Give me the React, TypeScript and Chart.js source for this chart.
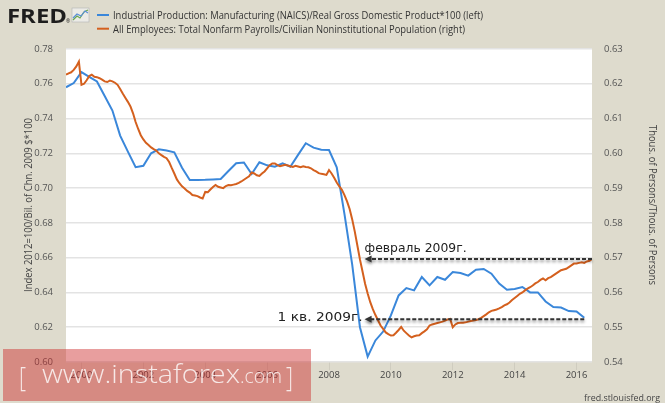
import React, { useEffect, useRef } from "react";
import { Chart, registerables } from "chart.js";

Chart.register(...registerables);

// ---------- data ----------
const xMin = 1999.5; // Jul 1999
const xMax = 2016.5; // Jul 2016
const xTickYears = [2000, 2002, 2004, 2006, 2008, 2010, 2012, 2014, 2016];
const leftTicks = [0.6, 0.62, 0.64, 0.66, 0.68, 0.7, 0.72, 0.74, 0.76, 0.78];
const rightTicks = [0.54, 0.55, 0.56, 0.57, 0.58, 0.59, 0.6, 0.61, 0.62, 0.63];

const blueLabel =
  "Industrial Production: Manufacturing (NAICS)/Real Gross Domestic Product*100 (left)";
const orangeLabel =
  "All Employees: Total Nonfarm Payrolls/Civilian Noninstitutional Population (right)";

// quarterly, from 1999 Q3 to 2016 Q2
const blueStart = 1999.5;
const blueValues = [
  0.758, 0.7604, // 1999 Q3-Q4
  0.7667, 0.764, 0.7613, 0.753, // 2000
  0.7446, 0.7302, 0.721, 0.712, // 2001
  0.7128, 0.72, 0.7223, 0.7216, // 2002
  0.7206, 0.7117, 0.7046, 0.7047, // 2003
  0.7048, 0.705, 0.7052, 0.7098, // 2004
  0.7143, 0.7147, 0.7081, 0.7149, // 2005
  0.7131, 0.7123, 0.7143, 0.7123, // 2006
  0.7191, 0.7258, 0.7233, 0.7221, // 2007
  0.7219, 0.712, 0.685, 0.656, // 2008
  0.62, 0.6031, 0.6124, 0.6175, // 2009
  0.6268, 0.6383, 0.6425, 0.6412, // 2010
  0.6489, 0.6441, 0.6489, 0.6473, // 2011
  0.6517, 0.6512, 0.6497, 0.6531, // 2012
  0.6535, 0.6508, 0.6451, 0.6416, // 2013
  0.642, 0.6431, 0.64, 0.64, // 2014
  0.6348, 0.6316, 0.6313, 0.6293, // 2015
  0.6291, 0.6254, // 2016 Q1-Q2
];

// monthly, from Jul 1999 to Jul 2016
const orangeStart = 1999.5;
const orangeValues = [
  0.6226, 0.623, 0.6233, 0.624, 0.625, 0.6264, // 1999 Jul-Dec
  0.6197, 0.62, 0.621, 0.6222, 0.6226, 0.622, 0.6219, 0.6216, 0.6212, 0.6207, 0.6205, 0.6209, // 2000
  0.6207, 0.6203, 0.6197, 0.6185, 0.6172, 0.616, 0.6148, 0.6135, 0.6115, 0.609, 0.607, 0.6052, // 2001
  0.604, 0.603, 0.6024, 0.6017, 0.6012, 0.6008, 0.6, 0.5995, 0.599, 0.5986, 0.5975, 0.5958, // 2002
  0.5942, 0.5925, 0.5914, 0.5905, 0.5899, 0.5892, 0.5887, 0.588, 0.5879, 0.5877, 0.5873, 0.587, // 2003
  0.5889, 0.5888, 0.5896, 0.5903, 0.5909, 0.5904, 0.5902, 0.59, 0.5906, 0.5909, 0.5908, 0.591, // 2004
  0.5912, 0.5915, 0.5919, 0.5924, 0.5929, 0.5934, 0.5945, 0.5942, 0.5937, 0.5935, 0.5942, 0.5948, // 2005
  0.5957, 0.5966, 0.5971, 0.5971, 0.5966, 0.5963, 0.5965, 0.5967, 0.5965, 0.5963, 0.5961, 0.5964, // 2006
  0.5962, 0.596, 0.5963, 0.5961, 0.596, 0.5957, 0.5952, 0.5948, 0.5943, 0.5941, 0.594, 0.5938, // 2007
  0.5952, 0.5942, 0.593, 0.5916, 0.5905, 0.5895, 0.588, 0.5862, 0.584, 0.581, 0.5775, 0.5735, // 2008
  0.5695, 0.566, 0.5625, 0.5597, 0.5572, 0.5552, 0.5535, 0.552, 0.5505, 0.5495, 0.5485, 0.548, // 2009
  0.5476, 0.5477, 0.5484, 0.5492, 0.5501, 0.549, 0.5483, 0.5476, 0.5471, 0.5474, 0.5476, 0.5477, // 2010
  0.5483, 0.5488, 0.5494, 0.5505, 0.5508, 0.551, 0.5512, 0.5514, 0.5516, 0.5519, 0.5522, 0.5524, // 2011
  0.55, 0.5508, 0.5512, 0.5513, 0.5513, 0.5514, 0.5516, 0.5518, 0.5519, 0.5521, 0.5523, 0.5527, // 2012
  0.5532, 0.5537, 0.5543, 0.5547, 0.5549, 0.5551, 0.5554, 0.5558, 0.5563, 0.5566, 0.5571, 0.5578, // 2013
  0.5584, 0.559, 0.5596, 0.56, 0.5606, 0.5611, 0.5615, 0.562, 0.5626, 0.563, 0.5636, 0.564, // 2014
  0.5635, 0.5641, 0.5644, 0.5649, 0.5654, 0.5659, 0.5664, 0.5666, 0.5668, 0.5673, 0.5678, 0.5683, // 2015
  0.5683, 0.5685, 0.5687, 0.5685, 0.5689, 0.5691, 0.5696, // 2016 Jan-Jul
];

// annotations
const annotationYear = 2009.15;
const upperNote = "февраль 2009г.";
const lowerNote = "1 кв. 2009г.";
const leftTitle = "Index 2012=100/Bil. of Chn. 2009 $*100";
const rightTitle = "Thous. of Persons/Thous. of Persons";
const sourceText = "fred.stlouisfed.org";

// ---------- styles ----------
const BG = "#dedbcd";
const BLUE = "#3a87da";
const ORANGE = "#d4601e";
const TICK = "#555555";
const FONT = '"Open Sans", "DejaVu Sans", sans-serif';

function fitText(
  ctx: CanvasRenderingContext2D,
  text: string,
  x: number,
  y: number,
  font: string,
  targetW: number,
  align: CanvasTextAlign = "left",
  rot = 0
) {
  ctx.save();
  ctx.font = font;
  const w = ctx.measureText(text).width;
  const s = targetW / w;
  ctx.translate(x, y);
  if (rot) ctx.rotate(rot);
  ctx.scale(s, 1);
  ctx.textAlign = align;
  ctx.fillText(text, 0, 0);
  ctx.restore();
}

function dashedArrow(ctx: CanvasRenderingContext2D, xTip: number, xEnd: number, y: number) {
  ctx.save();
  ctx.shadowColor = "rgba(0,0,0,0.45)";
  ctx.shadowBlur = 3;
  ctx.shadowOffsetY = 2;
  ctx.strokeStyle = "#333";
  ctx.lineWidth = 2;
  ctx.setLineDash([4, 2]);
  ctx.beginPath();
  ctx.moveTo(xEnd, y);
  ctx.lineTo(xTip + 5, y);
  ctx.stroke();
  ctx.setLineDash([]);
  ctx.fillStyle = "#333";
  ctx.beginPath();
  ctx.moveTo(xTip, y);
  ctx.lineTo(xTip + 7, y - 3.5);
  ctx.lineTo(xTip + 7, y + 3.5);
  ctx.closePath();
  ctx.fill();
  ctx.restore();
}

const decorPlugin = {
  id: "decor",
  beforeDraw(chart: any) {
    const { ctx, chartArea: a, width, height } = chart;
    ctx.save();
    ctx.fillStyle = BG;
    ctx.fillRect(0, 0, width, height);
    ctx.fillStyle = "#ffffff";
    ctx.fillRect(a.left, a.top, a.right - a.left, a.bottom - a.top);
    ctx.restore();
  },
  afterDraw(chart: any) {
    const { ctx } = chart;
    const xs = chart.scales.x;
    const yl = chart.scales.y;
    const yr = chart.scales.y1;

    ctx.save();
    // FRED logo
    ctx.fillStyle = "#1d1d1d";
    ctx.textBaseline = "alphabetic";
    fitText(ctx, "FRED", 7, 23, `bold 20px ${FONT}`, 60);
    ctx.font = `5px ${FONT}`;
    ctx.fillText("®", 66, 23);
    // small icon
    ctx.fillStyle = "#ecebe6";
    ctx.fillRect(72, 8, 17, 14);
    ctx.strokeStyle = "#b9b9b9";
    ctx.lineWidth = 0.7;
    ctx.strokeRect(72, 8, 17, 14);
    ctx.lineWidth = 1.2;
    ctx.strokeStyle = "#6aa84f";
    ctx.beginPath();
    ctx.moveTo(73, 20); ctx.lineTo(77, 16); ctx.lineTo(80, 18); ctx.lineTo(84, 12); ctx.lineTo(88, 10);
    ctx.stroke();
    ctx.strokeStyle = "#5b8fd6";
    ctx.beginPath();
    ctx.moveTo(73, 18); ctx.lineTo(77, 14); ctx.lineTo(81, 16); ctx.lineTo(85, 11); ctx.lineTo(88, 13);
    ctx.stroke();

    // legend
    ctx.lineWidth = 2;
    ctx.strokeStyle = BLUE;
    ctx.beginPath(); ctx.moveTo(97, 15); ctx.lineTo(109, 15); ctx.stroke();
    ctx.strokeStyle = ORANGE;
    ctx.beginPath(); ctx.moveTo(97, 28.7); ctx.lineTo(109, 28.7); ctx.stroke();
    ctx.fillStyle = "#333333";
    fitText(ctx, blueLabel, 113, 19, `10px ${FONT}`, 370);
    fitText(ctx, orangeLabel, 113, 32.5, `10px ${FONT}`, 352);

    // axis titles
    ctx.fillStyle = "#444444";
    fitText(ctx, leftTitle, 31.5, 205, `10px ${FONT}`, 174, "center", -Math.PI / 2);
    fitText(ctx, rightTitle, 649, 205, `10px ${FONT}`, 160, "center", Math.PI / 2);

    // annotations
    const tipX = xs.getPixelForValue(annotationYear);
    const oLastX = xs.getPixelForValue(orangeStart + (orangeValues.length - 1) / 12);
    const oLastY = yr.getPixelForValue(orangeValues[orangeValues.length - 1]);
    const bLastX = xs.getPixelForValue(blueStart + (blueValues.length - 1) * 0.25);
    const bLastY = yl.getPixelForValue(blueValues[blueValues.length - 1]);
    dashedArrow(ctx, tipX, oLastX, oLastY);
    dashedArrow(ctx, tipX, bLastX, bLastY + 1.5);
    ctx.fillStyle = "#222222";
    fitText(ctx, upperNote, tipX, oLastY - 7.5, `12.5px "DejaVu Sans", sans-serif`, 102);
    fitText(ctx, lowerNote, tipX - 2, bLastY + 3, `12.5px "DejaVu Sans", sans-serif`, 85, "right");

    // watermark
    ctx.fillStyle = "rgba(205,40,40,0.45)";
    ctx.fillRect(3, 349, 308, 52);
    ctx.fillStyle = "rgba(255,255,255,0.8)";
    fitText(ctx, "[", 19, 387, `300 28px ${FONT}`, 7);
    fitText(ctx, "www.instaforex", 42, 383, `300 26px ${FONT}`, 198);
    fitText(ctx, ".com", 240, 383, `300 20px ${FONT}`, 42);
    fitText(ctx, "]", 286, 387, `300 28px ${FONT}`, 7);

    // source
    ctx.fillStyle = "#444444";
    fitText(ctx, sourceText, 660, 401, `9px ${FONT}`, 76, "right");
    ctx.restore();
  },
};

export default function App() {
  const ref = useRef<HTMLCanvasElement | null>(null);

  useEffect(() => {
    document.body.style.margin = "0";
    const canvas = ref.current;
    if (!canvas) return;
    const blueData = blueValues.map((v, i) => ({ x: blueStart + i * 0.25, y: v }));
    const orangeData = orangeValues.map((v, i) => ({ x: orangeStart + i / 12, y: v }));
    const tickFont = { family: FONT, size: 9.5 };

    const chart = new Chart(canvas, {
      type: "line",
      data: {
        datasets: [
          {
            label: blueLabel,
            data: blueData,
            borderColor: BLUE,
            borderWidth: 2,
            pointRadius: 0,
            tension: 0,
            yAxisID: "y",
            order: 1,
          },
          {
            label: orangeLabel,
            data: orangeData,
            borderColor: ORANGE,
            borderWidth: 2,
            pointRadius: 0,
            tension: 0,
            yAxisID: "y1",
            order: 0,
          },
        ],
      },
      options: {
        animation: false,
        responsive: false,
        layout: { padding: { top: 49, left: 0, right: 0, bottom: 0 } },
        plugins: { legend: { display: false }, tooltip: { enabled: false } },
        scales: {
          x: {
            type: "linear",
            min: xMin,
            max: xMax,
            afterBuildTicks: (s: any) => {
              s.ticks = xTickYears.map((v) => ({ value: v }));
            },
            afterFit: (s: any) => {
              s.height = 41;
            },
            grid: { drawOnChartArea: false, drawTicks: true, tickLength: 8, color: "#cfccbf", lineWidth: 1 },
            border: { display: false },
            ticks: {
              font: tickFont,
              color: "#444",
              padding: 0,
              maxRotation: 0,
              autoSkip: false,
              callback: (v: any) => String(v),
            },
          },
          y: {
            type: "linear",
            position: "left",
            min: 0.6,
            max: 0.78,
            afterBuildTicks: (s: any) => {
              s.ticks = leftTicks.map((v) => ({ value: v }));
            },
            afterFit: (s: any) => {
              s.width = 66;
            },
            grid: { color: "#e3e3e3", lineWidth: 1.5, drawTicks: false },
            border: { display: false },
            ticks: {
              font: tickFont,
              color: TICK,
              padding: 13,
              callback: (v: any) => Number(v).toFixed(2),
            },
          },
          y1: {
            type: "linear",
            position: "right",
            min: 0.54,
            max: 0.63,
            afterBuildTicks: (s: any) => {
              s.ticks = rightTicks.map((v) => ({ value: v }));
            },
            afterFit: (s: any) => {
              s.width = 73;
            },
            grid: { display: false, drawTicks: false },
            border: { display: false },
            ticks: {
              font: tickFont,
              color: TICK,
              padding: 12,
              callback: (v: any) => Number(v).toFixed(2),
            },
          },
        },
      },
      plugins: [decorPlugin],
    } as any);

    return () => chart.destroy();
  }, []);

  return (
    <div style={{ position: "fixed", left: 0, top: 0, width: 665, height: 403, background: BG }}>
      <canvas ref={ref} width={665} height={403} style={{ width: 665, height: 403, display: "block" }} />
    </div>
  );
}
